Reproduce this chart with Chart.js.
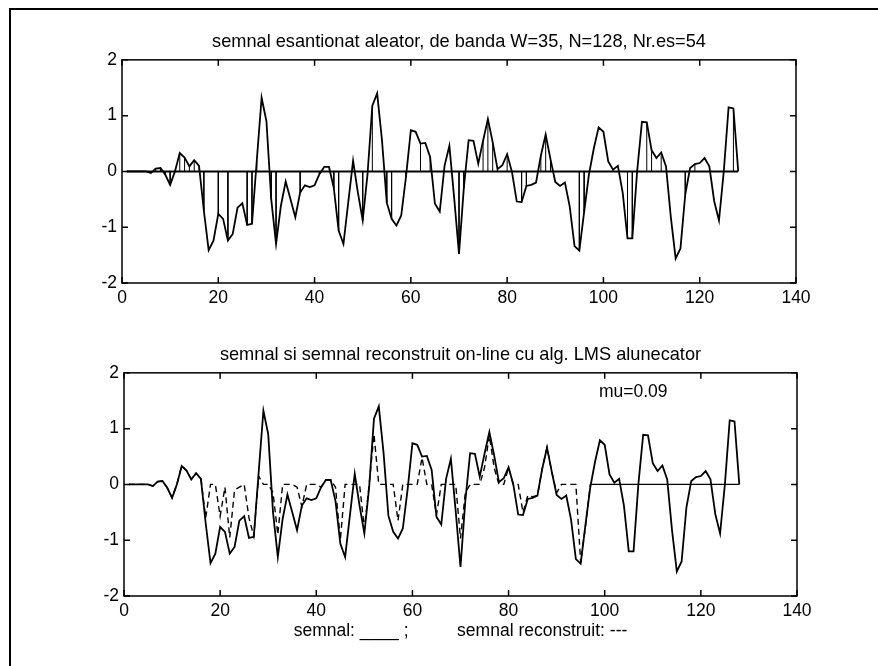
<!DOCTYPE html>
<html>
<head>
<meta charset="utf-8">
<script src="https://cdn.jsdelivr.net/npm/chart.js@4.4.0/dist/chart.umd.min.js"></script>
<style>
  body { margin: 0; background: #fff; }
  #frame { position: absolute; left: 9px; top: 8px; width: 900px; height: 700px;
           border-top: 2px solid #000; border-left: 2px solid #000; }
  #c1 { position: absolute; left: 0; top: 0; }
  #c2 { position: absolute; left: 0; top: 320px; }
</style>
</head>
<body>
<div id="frame"></div>
<canvas id="c1" width="878" height="320"></canvas>
<canvas id="c2" width="878" height="346"></canvas>
<script>
// signal values, one per sample index 1..128
var signal = [
  0, 0, 0, 0, 0, -0.03, 0.05, 0.06, -0.06, -0.24,
  0.0, 0.33, 0.25, 0.09, 0.2, 0.1, -0.7, -1.41, -1.24, -0.76,
  -0.85, -1.24, -1.12, -0.65, -0.57, -0.96, -0.94, 0.2, 1.32, 0.9,
  -0.5, -1.3, -0.62, -0.18, -0.5, -0.82, -0.38, -0.25, -0.28, -0.25,
  -0.05, 0.08, 0.08, -0.3, -1.06, -1.3, -0.55, 0.19, -0.38, -0.88,
  -0.05, 1.18, 1.4, 0.56, -0.56, -0.85, -0.97, -0.79, -0.09, 0.74,
  0.71, 0.5, 0.51, 0.26, -0.58, -0.72, 0.1, 0.46, -0.48, -1.48,
  -0.3, 0.56, 0.55, 0.14, 0.55, 0.94, 0.52, 0.04, 0.11, 0.31,
  -0.01, -0.54, -0.55, -0.26, -0.24, -0.2, 0.28, 0.66, 0.22, -0.19,
  -0.26, -0.2, -0.63, -1.34, -1.42, -0.72, -0.05, 0.41, 0.79, 0.71,
  0.18, 0.03, 0.1, -0.38, -1.2, -1.2, 0, 0.89, 0.88, 0.38,
  0.24, 0.34, 0.09, -0.82, -1.56, -1.38, -0.41, 0.06, 0.13, 0.15,
  0.24, 0.09, -0.53, -0.88, 0.0, 1.15, 1.13, 0
];

// LMS reconstruction (dashed), same indices
var reconstructed = [
  0, 0, 0, 0, 0, -0.03, 0.05, 0.06, -0.06, -0.24,
  0.0, 0.33, 0.25, 0.09, 0.2, 0.1, -0.6, 0, 0, -0.57,
  -0.05, -0.95, -0.1, -0.05, 0, -0.6, -0.93, 0.15, 0, 0,
  -0.15, -0.9, 0, 0, 0, -0.05, -0.4, 0, 0, 0,
  -0.05, 0.08, 0.08, -0.05, -1.0, 0, 0, 0, 0, -0.8,
  0, 0.9, 0, 0, 0, 0, -0.65, 0, 0, 0,
  0, 0.48, 0, 0, -0.55, 0, 0, 0, 0, -0.97,
  -0.15, 0, 0, 0, 0.3, 0.88, 0.3, 0, 0, 0.3,
  0, 0, -0.5, -0.2, -0.22, -0.2, 0.28, 0.66, 0.22, -0.15,
  0, 0, 0, 0, -1.4, -0.75, 0, 0, 0, 0,
  0, 0, 0, 0, 0, 0, 0, 0, 0, 0,
  0, 0, 0, 0, 0, 0, 0, 0, 0, 0,
  0, 0, 0, 0, 0, 0, 0, 0
];

// randomly chosen sample positions (54 of them)
var sampleIdx = [6, 7, 8, 9, 10, 12, 13, 14, 15, 16, 17, 20, 22, 26, 27, 28, 31, 32,
  37, 41, 44, 45, 50, 52, 55, 56, 59, 62, 64, 70, 71, 75, 76, 77, 78, 80, 83, 84,
  87, 88, 89, 95, 96, 102, 105, 106, 107, 109, 110, 112, 117, 119, 125, 127];

var xTicks = [0, 20, 40, 60, 80, 100, 120, 140];
var yTicks = [-2, -1, 0, 1, 2];

var title1 = 'semnal esantionat aleator, de banda W=35, N=128, Nr.es=54';
var title2 = 'semnal si semnal reconstruit on-line cu alg. LMS alunecator';
var xLabel2 = 'semnal: ____ ;          semnal reconstruit: ---';
var muText = 'mu=0.09';
var muAt = [98.8, 1.65];

var idx = signal.map(function (v, i) { return i + 1; });
var FONT = '"Liberation Sans", Arial, Helvetica, sans-serif';

var stemData = [];
sampleIdx.forEach(function (k) {
  stemData.push({x: k, y: 0}, {x: k, y: signal[k - 1]}, {x: k, y: null});
});

// matlab like box with inward ticks on all four sides
var matlabBox = {
  id: 'matlabBox',
  afterDraw: function (chart) {
    var ctx = chart.ctx, a = chart.chartArea, x = chart.scales.x, y = chart.scales.y;
    var t = 6;
    ctx.save();
    ctx.strokeStyle = '#000';
    ctx.lineWidth = 1.5;
    ctx.strokeRect(a.left, a.top, a.right - a.left, a.bottom - a.top);
    ctx.beginPath();
    x.ticks.forEach(function (tk) {
      var px = x.getPixelForValue(tk.value);
      ctx.moveTo(px, a.bottom); ctx.lineTo(px, a.bottom - t);
      ctx.moveTo(px, a.top); ctx.lineTo(px, a.top + t);
    });
    y.ticks.forEach(function (tk) {
      var py = y.getPixelForValue(tk.value);
      ctx.moveTo(a.left, py); ctx.lineTo(a.left + t, py);
      ctx.moveTo(a.right, py); ctx.lineTo(a.right - t, py);
    });
    ctx.stroke();
    var note = chart.options.plugins.matlabBox;
    if (note && note.text) {
      ctx.fillStyle = '#000';
      ctx.font = '17.5px ' + FONT;
      ctx.textAlign = 'left';
      ctx.textBaseline = 'middle';
      ctx.fillText(note.text, x.getPixelForValue(note.at[0]), y.getPixelForValue(note.at[1]));
    }
    ctx.restore();
  }
};

function axes(yWidth, xHeight, xTitle) {
  return {
    x: {
      type: 'linear', min: 0, max: 140,
      afterBuildTicks: function (s) { s.ticks = xTicks.map(function (v) { return {value: v}; }); },
      grid: {display: false, drawTicks: false},
      border: {display: false},
      ticks: {color: '#000', padding: 5, maxRotation: 0, font: {family: FONT, size: 17.5}},
      title: xTitle ? {display: true, text: xTitle, color: '#000', font: {family: FONT, size: 17.5},
                       padding: {top: 0, bottom: 24}} : {display: false},
      afterFit: function (s) { s.height = xHeight; }
    },
    y: {
      min: -2, max: 2,
      afterBuildTicks: function (s) { s.ticks = yTicks.map(function (v) { return {value: v}; }); },
      grid: {display: false, drawTicks: false},
      border: {display: false},
      ticks: {color: '#000', padding: 5, font: {family: FONT, size: 17.5}},
      afterFit: function (s) { s.width = yWidth; }
    }
  };
}

new Chart(document.getElementById('c1'), {
  type: 'line',
  data: {
    datasets: [
      {data: stemData, borderColor: '#000', borderWidth: 1, pointRadius: 0, spanGaps: false},
      {data: idx.map(function (k) { return {x: k, y: 0}; }), borderColor: '#000', borderWidth: 2, pointRadius: 0},
      {data: idx.map(function (k, i) { return {x: k, y: signal[i]}; }), borderColor: '#000', borderWidth: 1.8, pointRadius: 0}
    ]
  },
  options: {
    responsive: false, animation: false,
    layout: {padding: {left: 0, right: 82, top: 0, bottom: 0}},
    plugins: {
      legend: {display: false}, tooltip: {enabled: false},
      title: {display: true, fullSize: false, text: title1, color: '#000',
              font: {family: FONT, size: 18.2, weight: 'normal'},
              padding: {top: 31, bottom: 7}}
    },
    scales: axes(122, 37, null)
  },
  plugins: [matlabBox]
});

new Chart(document.getElementById('c2'), {
  type: 'line',
  data: {
    datasets: [
      {data: idx.map(function (k, i) { return {x: k, y: reconstructed[i]}; }), borderColor: '#000', borderWidth: 1.4,
       pointRadius: 0, borderDash: [6, 4],
       segment: {borderDash: function (c) { return c.p0DataIndex >= 96 ? [] : undefined; }}},
      {data: idx.map(function (k, i) { return {x: k, y: signal[i]}; }), borderColor: '#000', borderWidth: 1.8, pointRadius: 0}
    ]
  },
  options: {
    responsive: false, animation: false,
    layout: {padding: {left: 0, right: 81, top: 0, bottom: 0}},
    plugins: {
      legend: {display: false}, tooltip: {enabled: false},
      title: {display: true, fullSize: false, text: title2, color: '#000',
              font: {family: FONT, size: 18.2, weight: 'normal'},
              padding: {top: 24, bottom: 7}},
      matlabBox: {text: muText, at: muAt}
    },
    scales: axes(124, 70, xLabel2)
  },
  plugins: [matlabBox]
});
</script>
</body>
</html>
